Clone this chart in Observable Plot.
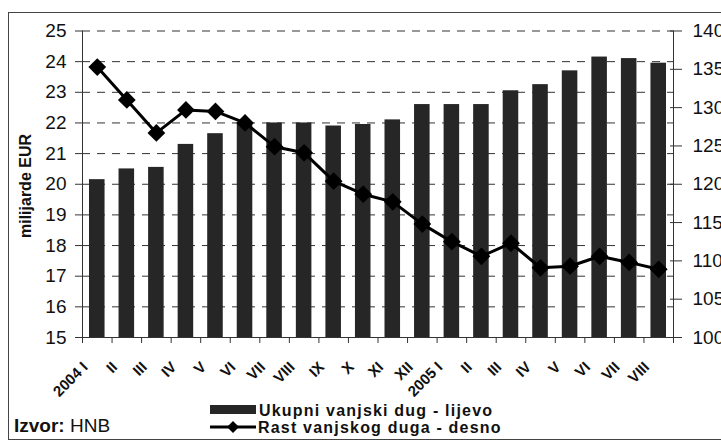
<!DOCTYPE html>
<html>
<head>
<meta charset="utf-8">
<script src="https://cdn.jsdelivr.net/npm/d3@7"></script>
<script src="https://cdn.jsdelivr.net/npm/@observablehq/plot@0.6"></script>
<style>
  body { margin: 0; background: #fff; font-family: Arial, "Liberation Sans", sans-serif; }
  #wrap { position: relative; width: 721px; height: 443px; overflow: hidden; }
  #wrap > svg { position: absolute; left: 0; top: 0; }
  #border { position: absolute; left: 8px; top: 12px; width: 730px; height: 428px; border: 1px solid #444; box-sizing: border-box; }
</style>
</head>
<body>
<div id="wrap"><div id="border"></div></div>
<script>
const months = ["2004 I","II","III","IV","V","VI","VII","VIII","IX","X","XI","XII","2005 I","II","III","IV","V","VI","VII","VIII"];
const debt = [20.15,20.5,20.55,21.3,21.65,21.95,22.0,22.0,21.9,21.95,22.1,22.6,22.6,22.6,23.05,23.25,23.7,24.15,24.1,23.95];
const growth = [135.3,131.0,126.7,129.7,129.5,128.0,124.9,124.1,120.4,118.7,117.7,114.8,112.5,110.6,112.3,109.1,109.3,110.6,109.8,108.9];
const leftTicks = [15,16,17,18,19,20,21,22,23,24,25];
const rightTicks = [100,105,110,115,120,125,130,135,140];
const seriesNames = ["Ukupni vanjski dug - lijevo", "Rast vanjskog duga - desno"];
const yTitle = "milijarde EUR";
const source = ["Izvor:", " HNB"];

const toLeft = v => 15 + (v - 100) / 4;
const table = months.map((m, i) => ({i, i2: i + 1, c: i + 0.5, label: m, debt: debt[i], g: toLeft(growth[i])}));

const font = "Arial, 'Liberation Sans', sans-serif";
const chart = Plot.plot({
  width: 721, height: 443,
  marginLeft: 82, marginRight: 48, marginTop: 30.5, marginBottom: 106,
  style: {fontFamily: font, background: "transparent", color: "#111", overflow: "visible"},
  x: {type: "linear", domain: [0, months.length], axis: null},
  y: {domain: [15, 25], axis: null},
  marks: [
    Plot.ruleY(leftTicks.slice(1), {stroke: "#333", strokeWidth: 1, strokeDasharray: "8,7"}),
    Plot.rectY(table, {x1: "i", x2: "i2", y1: 15, y2: "debt", insetLeft: 7, insetRight: 7, fill: "#262626"}),
    Plot.ruleX([0, months.length], {stroke: "#333", strokeWidth: 1}),
    Plot.ruleY([15], {stroke: "#333", strokeWidth: 1}),
    Plot.axisY({ticks: leftTicks, tickSize: 7, tickPadding: 9, fontSize: 19, label: null, stroke: "#333"}),
    Plot.axisY({anchor: "right", ticks: rightTicks.map(toLeft), tickFormat: d => String(Math.round(100 + (d - 15) * 4)),
      tickSize: 8, tickPadding: 11, fontSize: 19, label: null, stroke: "#333"}),
    Plot.axisY({anchor: "right", ticks: rightTicks.map(toLeft), tickFormat: () => "", tickSize: 4, dx: -4, label: null, stroke: "#333"}),
    Plot.axisX({ticks: d3.range(months.length + 1), tickFormat: () => "", tickSize: 6, label: null, stroke: "#333"}),
    Plot.line(table, {x: "c", y: "g", stroke: "#000", strokeWidth: 3}),
    Plot.dot(table, {x: "c", y: "g", symbol: "diamond2", r: 8, fill: "#000"})
  ]
});
const wrap = document.getElementById("wrap");
wrap.appendChild(chart);
const xs = chart.scale("x");
const ys = chart.scale("y");

// overlay: rotated category labels, axis title, legend, source
const ov = d3.select(wrap).append("svg").attr("width", 721).attr("height", 443)
  .style("font-family", font).style("pointer-events", "none");
const baseY = ys.apply(15);
ov.append("g").selectAll("text").data(table).join("text")
  .attr("transform", d => `translate(${xs.apply(d.c) - 8},${baseY + 31}) rotate(-45)`)
  .attr("text-anchor", "end").attr("font-weight", "bold").attr("font-size", 15).attr("fill", "#111")
  .text(d => d.label);
ov.append("text").attr("transform", "translate(31,186) rotate(-90)")
  .attr("text-anchor", "middle").attr("font-weight", "bold").attr("font-size", 16).attr("fill", "#111").text(yTitle);
// legend row 1
ov.append("rect").attr("x", 210).attr("y", 405).attr("width", 46).attr("height", 9).attr("fill", "#262626");
ov.append("text").attr("x", 259).attr("y", 416).attr("font-weight", "bold").attr("font-size", 16)
  .attr("letter-spacing", 1.2).attr("fill", "#111").text(seriesNames[0]);
// legend row 2
ov.append("line").attr("x1", 210).attr("x2", 256).attr("y1", 427).attr("y2", 427).attr("stroke", "#000").attr("stroke-width", 3);
ov.append("path").attr("d", "M233,421L239,427L233,433L227,427Z").attr("fill", "#000");
ov.append("text").attr("x", 258).attr("y", 433).attr("font-weight", "bold").attr("font-size", 16)
  .attr("letter-spacing", 1.2).attr("fill", "#111").text(seriesNames[1]);
// source
const src = ov.append("text").attr("x", 14).attr("y", 432).attr("font-size", 19).attr("fill", "#111");
src.append("tspan").attr("font-weight", "bold").text(source[0]);
src.append("tspan").text(source[1]);
</script>
</body>
</html>
